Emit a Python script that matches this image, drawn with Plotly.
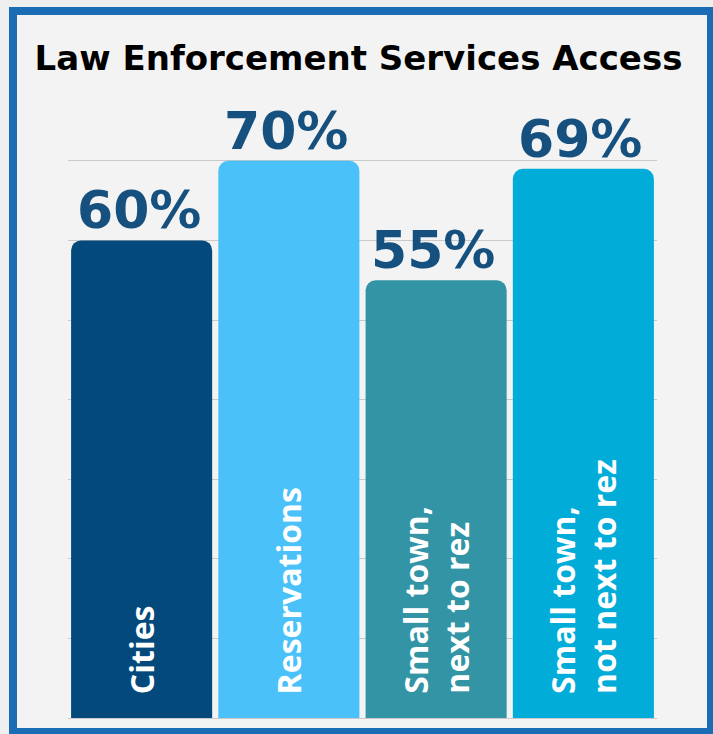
import plotly.graph_objects as go

# ---- data ----
categories = ["Cities", "Reservations", "Small town,<br>next to rez", "Small town,<br>not next to rez"]
values = [60, 70, 55, 69]
value_labels = ["60%", "70%", "55%", "69%"]
bar_colors = ["#03497b", "#4ac1f8", "#3294a5", "#01acd9"]

W, H = 713, 734
L_M, R_M, T_M, B_M = 68, 56, 121, 16
plot_w = W - L_M - R_M
plot_h = H - T_M - B_M

def px_x(p):
    return (p - L_M) / plot_w

def px_y(p):
    return (H - B_M - p) / plot_h

fig = go.Figure()
fig.add_trace(go.Bar(
    x=categories, y=values,
    marker=dict(color=bar_colors, line=dict(width=0)),
    hoverinfo="skip",
))

annotations = []
for c, v, lab in zip(categories, values, value_labels):
    annotations.append(dict(
        x=c, y=v, xref="x", yref="y", text=lab, showarrow=False,
        xanchor="center", yanchor="bottom", yshift=-2, xshift=-3,
        font=dict(family="DejaVu Sans", size=52, color="#15507f", weight="bold"),
    ))
    annotations.append(dict(
        x=c, y=0, xref="x", yref="y", text=c, showarrow=False,
        textangle=-90, align="left",
        xanchor="center", yanchor="bottom", yshift=22,
        font=dict(family="Open Sans", size=32, color="white", weight="bold"),
    ))

fig.update_layout(
    width=W, height=H,
    margin=dict(l=L_M, r=R_M, t=T_M, b=B_M, pad=0),
    paper_bgcolor="#efefef",
    plot_bgcolor="rgba(0,0,0,0)",
    bargap=0.042,
    barcornerradius=10,
    showlegend=False,
    title=dict(
        text="<b>Law Enforcement Services Access</b>",
        x=(358.5) / W, xref="container", xanchor="center",
        y=1 - 58 / H, yref="container", yanchor="middle",
        font=dict(family="DejaVu Sans", size=34, color="#000000"),
    ),
    xaxis=dict(showticklabels=False, showgrid=False, zeroline=False, showline=False, fixedrange=True),
    yaxis=dict(range=[0, 75], showticklabels=False, showgrid=True, gridcolor="#c9c9c9",
               gridwidth=1, dtick=10, zeroline=True, zerolinecolor="#c9c9c9", zerolinewidth=1,
               showline=False, fixedrange=True),
    annotations=annotations,
    shapes=[dict(
        type="rect", xref="paper", yref="paper", layer="below",
        x0=px_x(13), x1=px_x(711), y0=px_y(732), y1=px_y(11),
        line=dict(color="#1a6db4", width=8), fillcolor="#f3f3f3",
    )],
)

fig.write_html("out.html")
